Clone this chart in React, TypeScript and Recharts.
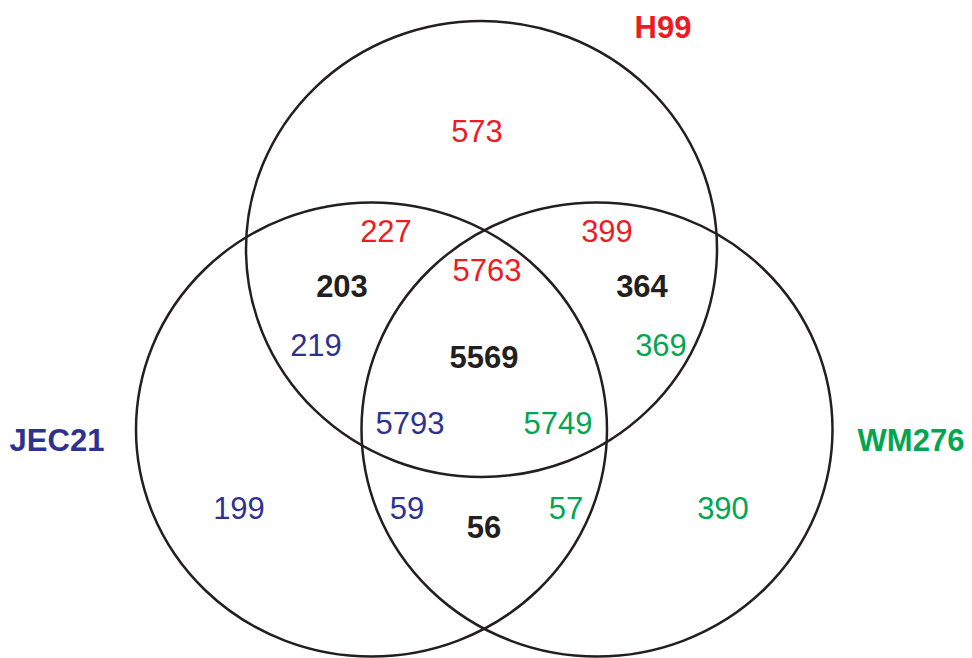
import { ScatterChart, Scatter, XAxis, YAxis } from "recharts";

// Venn diagram: three genomes, gene counts per region

const W = 972;
const H = 658;
const FONT = '"Liberation Sans", Arial, Helvetica, sans-serif';

const RED = "#ed1c24";
const BLUE = "#2e3192";
const GREEN = "#00a651";
const BLACK = "#231f20";

// set outlines (x, y = centre, rx/ry = radii, all in chart units)
const sets = [
  { name: "H99", x: 481.5, y: 249, rx: 235.5, ry: 228 },
  { name: "JEC21", x: 371.5, y: 429.5, rx: 235.5, ry: 227 },
  { name: "WM276", x: 597, y: 429.5, rx: 235.5, ry: 227 },
];

// set names
const setLabels = [
  { text: "H99", x: 663, y: 27, color: RED },
  { text: "JEC21", x: 57, y: 440, color: BLUE },
  { text: "WM276", x: 911, y: 440, color: GREEN },
];

// region counts, coloured by the genome they refer to
const counts = [
  { text: "573", x: 477, y: 131, color: RED, bold: false },
  { text: "227", x: 386, y: 231, color: RED, bold: false },
  { text: "399", x: 607, y: 231, color: RED, bold: false },
  { text: "5763", x: 487, y: 270, color: RED, bold: false },
  { text: "219", x: 316, y: 345, color: BLUE, bold: false },
  { text: "5793", x: 410, y: 423, color: BLUE, bold: false },
  { text: "199", x: 239, y: 508, color: BLUE, bold: false },
  { text: "59", x: 407, y: 508, color: BLUE, bold: false },
  { text: "369", x: 661, y: 345, color: GREEN, bold: false },
  { text: "5749", x: 558, y: 423, color: GREEN, bold: false },
  { text: "57", x: 566, y: 508, color: GREEN, bold: false },
  { text: "390", x: 723, y: 508, color: GREEN, bold: false },
  // shared core counts
  { text: "203", x: 342, y: 286, color: BLACK, bold: true },
  { text: "364", x: 642, y: 286, color: BLACK, bold: true },
  { text: "5569", x: 484, y: 357, color: BLACK, bold: true },
  { text: "56", x: 484, y: 527, color: BLACK, bold: true },
];

const K = 1; // plot px per chart unit (plot area == domain)

const EllipseShape = (props: any) => {
  const p = props.payload;
  return (
    <ellipse
      cx={props.cx}
      cy={props.cy}
      rx={p.rx * K}
      ry={p.ry * K}
      fill="none"
      stroke={BLACK}
      strokeWidth={2.5}
    />
  );
};

const CountShape = (props: any) => {
  const p = props.payload;
  return (
    <text
      x={props.cx}
      y={props.cy}
      dy="0.36em"
      textAnchor="middle"
      fontFamily={FONT}
      fontSize={31}
      fontWeight={p.bold ? 700 : 400}
      fill={p.color}
    >
      {p.text}
    </text>
  );
};

const SetLabelShape = (props: any) => {
  const p = props.payload;
  return (
    <text
      x={props.cx}
      y={props.cy}
      dy="0.36em"
      textAnchor="middle"
      fontFamily={FONT}
      fontSize={31}
      fontWeight={700}
      fill={p.color}
    >
      {p.text}
    </text>
  );
};

export default function App() {
  return (
    <div style={{ position: "fixed", left: 0, top: 0, background: "#fff" }}>
      <ScatterChart width={W} height={H} margin={{ top: 0, right: 0, bottom: 0, left: 0 }}>
        <XAxis type="number" dataKey="x" domain={[0, W]} hide />
        <YAxis type="number" dataKey="y" domain={[0, H]} reversed hide />
        <Scatter data={sets} shape={EllipseShape} isAnimationActive={false} />
        <Scatter data={counts} shape={CountShape} isAnimationActive={false} />
        <Scatter data={setLabels} shape={SetLabelShape} isAnimationActive={false} />
      </ScatterChart>
    </div>
  );
}
